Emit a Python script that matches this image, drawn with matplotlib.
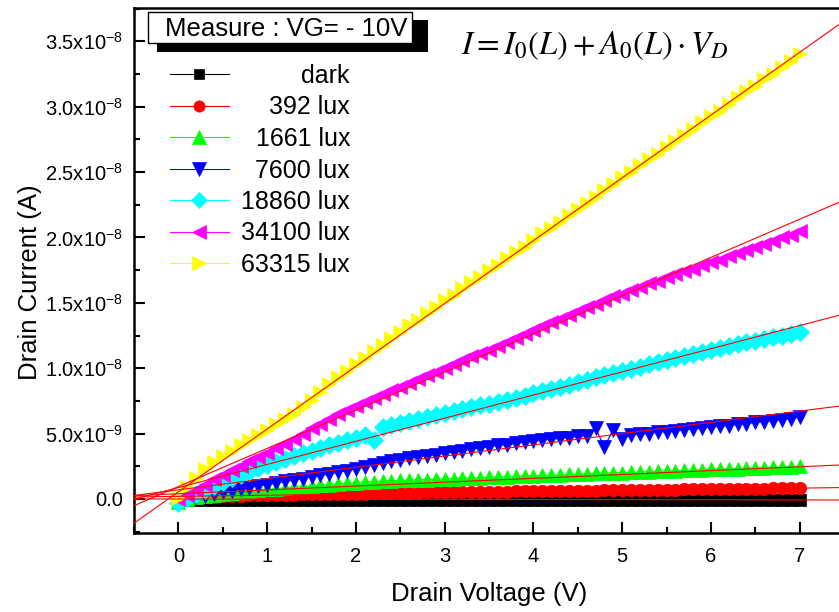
import matplotlib
matplotlib.use("Agg")
import matplotlib.pyplot as plt
from matplotlib.patches import Rectangle
from matplotlib.ticker import FixedLocator, FixedFormatter, MultipleLocator

plt.rcParams['font.family'] = ['Liberation Sans', 'DejaVu Sans']

# drain voltage sweep (V)
vd = [0.0, 0.1, 0.2, 0.3, 0.4, 0.5, 0.6, 0.7, 0.8, 0.9,
      1.0, 1.1, 1.2, 1.3, 1.4, 1.5, 1.6, 1.7, 1.8, 1.9,
      2.0, 2.1, 2.2, 2.3, 2.4, 2.5, 2.6, 2.7, 2.8, 2.9,
      3.0, 3.1, 3.2, 3.3, 3.4, 3.5, 3.6, 3.7, 3.8, 3.9,
      4.0, 4.1, 4.2, 4.3, 4.4, 4.5, 4.6, 4.7, 4.8, 4.9,
      5.0, 5.1, 5.2, 5.3, 5.4, 5.5, 5.6, 5.7, 5.8, 5.9,
      6.0, 6.1, 6.2, 6.3, 6.4, 6.5, 6.6, 6.7, 6.8, 6.9,
      7.0]

# drain current, units of 1e-9 A
dark = [-0.15, -0.10, -0.08, -0.07, -0.07, -0.06, -0.06, -0.06, -0.06, -0.06,
        -0.06, -0.06, -0.05, -0.05, -0.05, -0.05, -0.05, -0.05, -0.05, -0.05,
        -0.05, -0.05, -0.05, -0.05, -0.05, -0.05, -0.05, -0.05, -0.05, -0.05,
        -0.05, -0.05, -0.05, -0.04, -0.05, -0.05, -0.05, -0.05, -0.04, -0.05,
        -0.05, -0.05, -0.05, -0.05, -0.05, -0.04, -0.05, -0.05, -0.05, -0.05,
        -0.05, -0.05, -0.04, -0.05, -0.05, -0.05, -0.05, -0.05, -0.05, -0.04,
        -0.05, -0.05, -0.05, -0.05, -0.05, -0.05, -0.04, -0.05, -0.05, -0.05,
        -0.04]
lux392 = [-0.20, -0.05, 0.05, 0.12, 0.17, 0.20, 0.23, 0.25, 0.27, 0.29,
          0.31, 0.32, 0.33, 0.34, 0.35, 0.36, 0.37, 0.38, 0.39, 0.40,
          0.41, 0.42, 0.44, 0.45, 0.46, 0.47, 0.48, 0.49, 0.50, 0.51,
          0.51, 0.52, 0.53, 0.54, 0.55, 0.56, 0.57, 0.57, 0.58, 0.59,
          0.59, 0.60, 0.61, 0.61, 0.62, 0.63, 0.63, 0.64, 0.65, 0.66,
          0.67, 0.68, 0.68, 0.69, 0.70, 0.71, 0.72, 0.73, 0.74, 0.74,
          0.75, 0.76, 0.77, 0.78, 0.79, 0.80, 0.80, 0.81, 0.82, 0.83,
          0.84]
lux1661 = [-0.20, 0.00, 0.15, 0.25, 0.30, 0.40, 0.45, 0.55, 0.60, 0.70,
           0.75, 0.80, 0.85, 0.90, 0.95, 1.00, 1.05, 1.10, 1.15, 1.20,
           1.25, 1.30, 1.33, 1.37, 1.40, 1.42, 1.44, 1.47, 1.49, 1.52,
           1.54, 1.56, 1.59, 1.61, 1.64, 1.66, 1.68, 1.71, 1.73, 1.76,
           1.78, 1.80, 1.83, 1.85, 1.88, 1.90, 1.92, 1.95, 1.97, 2.00,
           2.02, 2.04, 2.07, 2.09, 2.12, 2.14, 2.16, 2.19, 2.21, 2.24,
           2.26, 2.28, 2.31, 2.33, 2.36, 2.38, 2.40, 2.43, 2.45, 2.48,
           2.50]
lux7600 = [-0.20, 0.00, 0.15, 0.25, 0.35, 0.50, 0.60, 0.75, 0.85, 1.00,
           1.10, 1.20, 1.35, 1.45, 1.55, 1.70, 1.80, 1.90, 2.05, 2.15,
           2.30, 2.45, 2.60, 2.75, 2.90, 3.00, 3.10, 3.20, 3.30, 3.40,
           3.50, 3.60, 3.70, 3.80, 3.90, 4.00, 4.10, 4.15, 4.25, 4.35,
           4.40, 4.50, 4.55, 4.65, 4.70, 4.80, 4.85, 5.40, 4.00, 5.30,
           4.60, 4.90, 4.95, 5.00, 5.10, 5.15, 5.20, 5.30, 5.35, 5.40,
           5.50, 5.55, 5.60, 5.70, 5.75, 5.85, 5.90, 6.00, 6.05, 6.15,
           6.25]
lux18860 = [-0.30, 0.10, 0.40, 0.70, 1.00, 1.30, 1.60, 1.85, 2.10, 2.35,
            2.60, 2.85, 3.05, 3.30, 3.50, 3.70, 3.90, 4.10, 4.30, 4.50,
            4.70, 4.90, 4.50, 5.50, 5.65, 5.80, 5.95, 6.10, 6.25, 6.40,
            6.55, 6.70, 6.85, 7.00, 7.15, 7.30, 7.45, 7.60, 7.75, 7.90,
            8.10, 8.25, 8.40, 8.60, 8.75, 8.95, 9.10, 9.30, 9.45, 9.60,
            9.80, 9.95, 10.10, 10.30, 10.45, 10.60, 10.80, 10.95, 11.10, 11.25,
            11.40, 11.55, 11.70, 11.85, 12.00, 12.10, 12.25, 12.40, 12.50, 12.65,
            12.80]
lux34100 = [0.0, 0.3, 0.7, 1.1, 1.5, 1.8, 2.2, 2.5, 2.9, 3.2,
            3.5, 3.9, 4.2, 4.6, 5.0, 5.4, 5.7, 6.1, 6.5, 6.8,
            7.1, 7.4, 7.7, 8.0, 8.3, 8.6, 8.9, 9.2, 9.5, 9.7,
            10.0, 10.3, 10.6, 10.9, 11.2, 11.4, 11.7, 12.0, 12.3, 12.6,
            12.9, 13.2, 13.5, 13.8, 14.1, 14.4, 14.7, 14.9, 15.2, 15.5,
            15.7, 16.0, 16.2, 16.5, 16.7, 17.0, 17.2, 17.4, 17.6, 17.9,
            18.1, 18.3, 18.6, 18.8, 19.0, 19.3, 19.5, 19.7, 20.0, 20.2,
            20.5]
lux63315 = [0.1, 0.9, 1.6, 2.3, 2.8, 3.3, 3.7, 4.1, 4.5, 4.9,
            5.3, 5.7, 6.1, 6.5, 7.0, 7.6, 8.2, 8.8, 9.3, 9.8,
            10.3, 10.8, 11.3, 11.8, 12.3, 12.8, 13.3, 13.7, 14.2, 14.7,
            15.2, 15.6, 16.1, 16.6, 17.0, 17.5, 17.9, 18.4, 18.9, 19.3,
            19.8, 20.3, 20.7, 21.2, 21.7, 22.2, 22.6, 23.1, 23.6, 24.1,
            24.6, 25.0, 25.5, 26.0, 26.4, 26.9, 27.4, 27.8, 28.3, 28.8,
            29.3, 29.7, 30.2, 30.7, 31.2, 31.6, 32.1, 32.5, 33.0, 33.5,
            34.0]

labels = ['dark', '392 lux', '1661 lux', '7600 lux', '18860 lux', '34100 lux', '63315 lux']
series = [dark, lux392, lux1661, lux7600, lux18860, lux34100, lux63315]
colors = ['#000000', '#ff0000', '#00ff00', '#0000ff', '#00ffff', '#ff00ff', '#ffff00']
markers = ['s', 'o', '^', 'v', 'D', '<', '>']
msizes = [8.5, 9, 10.5, 10.5, 9, 10.5, 10.5]

# linear fit I = I0 + A0*VD, I0 in 1e-9 A, A0 in 1e-9 A/V
fit_i0 = [0.0, 0.2, 0.4, 0.7, 0.87, 0.95, 0.55]
fit_a0 = [-0.01, 0.09, 0.295, 0.86, 1.77, 2.92, 4.8]

W, H = 839, 612
fig = plt.figure(figsize=(W / 100, H / 100), dpi=100)
ax = fig.add_axes([134 / W, 1 - 533 / H, 710 / W, 525 / H])


def px(x, y):
    return x / W, 1 - y / H


for vals, c, m, ms, lab in zip(series, colors, markers, msizes, labels):
    ax.plot(vd, [v * 1e-9 for v in vals], color=c, marker=m, ms=ms, mec=c, mew=0.5,
            lw=0.8, label=lab, zorder=2)

for i0, a0 in zip(fit_i0, fit_a0):
    ax.axline((0, i0 * 1e-9), slope=a0 * 1e-9, color='#ff0000', lw=0.8, zorder=3)

ax.set_xlim(-0.5, 7.5)
ax.set_ylim(-2.6e-9, 37.54e-9)

yt = [0, 5e-9, 1e-8, 1.5e-8, 2e-8, 2.5e-8, 3e-8, 3.5e-8]
ytl = ['0.0', r'$\mathregular{5.0x10^{-9}}$', r'$\mathregular{1.0x10^{-8}}$',
       r'$\mathregular{1.5x10^{-8}}$', r'$\mathregular{2.0x10^{-8}}$',
       r'$\mathregular{2.5x10^{-8}}$', r'$\mathregular{3.0x10^{-8}}$',
       r'$\mathregular{3.5x10^{-8}}$']
ax.yaxis.set_major_locator(FixedLocator(yt))
ax.yaxis.set_major_formatter(FixedFormatter(ytl))
ax.yaxis.set_minor_locator(MultipleLocator(2.5e-9))
ax.xaxis.set_major_locator(FixedLocator([0, 1, 2, 3, 4, 5, 6, 7]))
ax.xaxis.set_minor_locator(MultipleLocator(0.5))

ax.tick_params(which='both', direction='in', width=1.5, labelsize=14.5)
ax.tick_params(which='major', length=8)
ax.tick_params(which='minor', length=4.5)
ax.tick_params(axis='y', pad=8)
ax.tick_params(axis='x', pad=10)
for s in ax.spines.values():
    s.set_linewidth(1.8)

ax.set_xlabel('Drain Voltage (V)', fontsize=18.5)
ax.set_ylabel('Drain Current (A)', fontsize=18.5)
ax.xaxis.set_label_coords(0.5, -0.093)
ax.yaxis.set_label_coords(-0.130, 0.478)

# legend: handles from matplotlib, labels right-aligned like the original
leg = ax.legend(loc='upper left', bbox_to_anchor=px(170, 64), bbox_transform=fig.transFigure,
                frameon=False, fontsize=18, borderpad=0, borderaxespad=0,
                handlelength=2.35, handletextpad=0.4, labelspacing=0.3, numpoints=1,
                markerscale=0.9)
fig.canvas.draw()
rend = fig.canvas.get_renderer()
for t in leg.get_texts():
    bb = t.get_window_extent(rend)
    t.set_visible(False)
    fig.text(350 / W, bb.y0 / H, t.get_text(), fontsize=18, ha='right', va='bottom')

# "Measure" box with drop shadow
fig.patches.append(Rectangle(px(157, 52), 271 / W, 32 / H, transform=fig.transFigure,
                             facecolor='black', edgecolor='none', zorder=5))
fig.patches.append(Rectangle(px(148, 43), 264 / W, 31 / H, transform=fig.transFigure,
                             facecolor='white', edgecolor='black', lw=1, zorder=6))
fig.text(*px(286, 29), 'Measure : VG= - 10V', fontsize=18.5, ha='center', va='center', zorder=7)

fig.text(*px(461, 46), r'$I = I_0(L) + A_0(L)\cdot V_D$', fontsize=23.5,
         math_fontfamily='stix', ha='left', va='center')

fig.savefig('out.png', dpi=100)
